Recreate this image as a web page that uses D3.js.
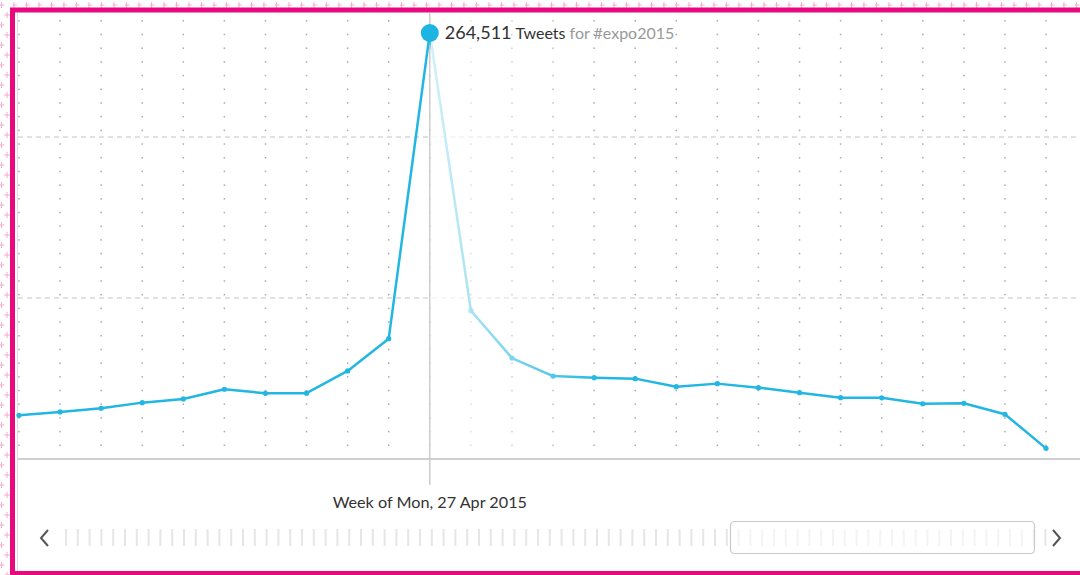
<!DOCTYPE html>
<html>
<head>
<meta charset="utf-8">
<script src="https://cdn.jsdelivr.net/npm/d3@7"></script>
<style>
  body { margin: 0; background: #fff; }
  svg { display: block; font-family: "Lato", "Open Sans", sans-serif; }
</style>
</head>
<body>
<script>
var width = 1080;
var height = 575;

// weekly tweet counts for #expo2015
var weeks = ["16 Feb 2015", "23 Feb 2015", "2 Mar 2015", "9 Mar 2015", "16 Mar 2015",
    "23 Mar 2015", "30 Mar 2015", "6 Apr 2015", "13 Apr 2015", "20 Apr 2015",
    "27 Apr 2015", "4 May 2015", "11 May 2015", "18 May 2015", "25 May 2015",
    "1 Jun 2015", "8 Jun 2015", "15 Jun 2015", "22 Jun 2015", "29 Jun 2015",
    "6 Jul 2015", "13 Jul 2015", "20 Jul 2015", "27 Jul 2015", "3 Aug 2015", "10 Aug 2015"];
var tweets = [27100, 29200, 31500, 35000, 37300, 43300, 40800, 40900, 54700, 74700,
    264511, 92100, 62700, 51500, 50500, 49900, 44900, 46800, 44300, 41200,
    38100, 38000, 34300, 34600, 27800, 6600];
var gridValues = [100000, 200000];
var hoverIndex = 10;
var hashtag = "#expo2015";

var lineColor = "#22b7e2";
var pink = "#e8097f";

var svg = d3.select("body")
    .append("svg")
    .attr("width", width)
    .attr("height", height);

var defs = svg.append("defs");

// light pink crosses outside the frame
var pat = defs.append("pattern")
    .attr("id", "crosses")
    .attr("patternUnits", "userSpaceOnUse")
    .attr("width", 12.5)
    .attr("height", 20);
[[1.5, 5], [7, 15]].forEach(function(c) {
    pat.append("path")
        .attr("d", "M" + (c[0] - 3) + "," + c[1] + "h6M" + c[0] + "," + (c[1] - 3) + "v6")
        .attr("stroke", "#f4a9d0")
        .attr("stroke-width", 1);
});

var fade = defs.append("linearGradient")
    .attr("id", "fade")
    .attr("x1", "0").attr("x2", "1").attr("y1", "0").attr("y2", "0");
fade.append("stop").attr("offset", "0").attr("stop-color", "#fff").attr("stop-opacity", 0.8);
fade.append("stop").attr("offset", "1").attr("stop-color", "#fff").attr("stop-opacity", 0);

svg.append("rect")
    .attr("width", width)
    .attr("height", height)
    .attr("fill", "url(#crosses)");

svg.append("rect")
    .attr("x", 12.5)
    .attr("y", 10)
    .attr("width", width)
    .attr("height", 563.5)
    .attr("fill", "#fff")
    .attr("stroke", pink)
    .attr("stroke-width", 5);

var x = d3.scalePoint()
    .domain(weeks)
    .range([19, 1046]);

var y = d3.scaleLinear()
    .domain([0, d3.max(tweets)])
    .range([459, 33]);

var step = x.step();

// left edge of the chart container
svg.append("line")
    .attr("x1", 17.5).attr("x2", 17.5)
    .attr("y1", 13).attr("y2", 571)
    .attr("stroke", "#ddd");

// dotted grid
var rows = d3.range(1, 33).map(function(k) { return y(0) - k * step / 3; });
var dots = svg.append("g").attr("class", "dots");
weeks.forEach(function(w) {
    dots.selectAll(null)
        .data(rows)
        .enter().append("rect")
        .attr("x", x(w) - 0.75)
        .attr("y", function(d) { return d - 0.75; })
        .attr("width", 1.5)
        .attr("height", 1.5)
        .attr("fill", "#aaa");
});

// dashed value lines
svg.append("g")
    .selectAll("line")
    .data(gridValues)
    .enter().append("line")
    .attr("x1", 18).attr("x2", width)
    .attr("y1", function(d) { return y(d); })
    .attr("y2", function(d) { return y(d); })
    .attr("stroke", "#d8d8d8")
    .attr("stroke-width", 1.5)
    .attr("stroke-dasharray", "5,4");

// baseline
svg.append("line")
    .attr("x1", 18).attr("x2", width)
    .attr("y1", y(0)).attr("y2", y(0))
    .attr("stroke", "#cfcfcf")
    .attr("stroke-width", 2);

var hx = x(weeks[hoverIndex]);

// hover guide
svg.append("line")
    .attr("x1", hx).attr("x2", hx)
    .attr("y1", 13).attr("y2", 485)
    .attr("stroke", "#ccc")
    .attr("stroke-width", 1.5);

var line = d3.line()
    .x(function(d, i) { return x(weeks[i]); })
    .y(function(d) { return y(d); });

svg.append("path")
    .datum(tweets)
    .attr("d", line)
    .attr("fill", "none")
    .attr("stroke", lineColor)
    .attr("stroke-width", 2.5)
    .attr("stroke-linejoin", "round");

svg.append("g")
    .selectAll("circle")
    .data(tweets)
    .enter().append("circle")
    .attr("cx", function(d, i) { return x(weeks[i]); })
    .attr("cy", function(d) { return y(d); })
    .attr("r", 2.6)
    .attr("fill", lineColor);

// fade to the right of the hovered week
svg.append("rect")
    .attr("x", hx + 1)
    .attr("y", 13)
    .attr("width", 170)
    .attr("height", 444)
    .attr("fill", "url(#fade)");

svg.append("circle")
    .attr("cx", hx)
    .attr("cy", y(tweets[hoverIndex]))
    .attr("r", 9)
    .attr("fill", "#1bb4e3");

var label = svg.append("text")
    .attr("x", hx + 15)
    .attr("y", y(tweets[hoverIndex]) + 6)
    .attr("fill", "#333");
label.append("tspan")
    .attr("font-size", 18)
    .text(d3.format(",")(tweets[hoverIndex]));
label.append("tspan")
    .attr("font-size", 16)
    .attr("dx", 4)
    .text("Tweets");
label.append("tspan")
    .attr("font-size", 16)
    .attr("dx", 4)
    .attr("fill", "#999")
    .text("for " + hashtag);

svg.append("text")
    .attr("x", hx)
    .attr("y", 508)
    .attr("text-anchor", "middle")
    .attr("font-size", 16.2)
    .attr("fill", "#333")
    .text("Week of Mon, " + weeks[hoverIndex]);

// navigator strip
var nav = svg.append("g").attr("class", "navigator");
nav.selectAll("line")
    .data(d3.range(66, 1050, 11.8))
    .enter().append("line")
    .attr("x1", function(d) { return d; })
    .attr("x2", function(d) { return d; })
    .attr("y1", 529)
    .attr("y2", 546)
    .attr("stroke", "#e6e6e6")
    .attr("stroke-width", 2);

nav.append("rect")
    .attr("x", 730.5)
    .attr("y", 521.5)
    .attr("width", 304)
    .attr("height", 32)
    .attr("rx", 4)
    .attr("fill", "#fff")
    .attr("fill-opacity", 0.55)
    .attr("stroke", "#c9c9c9")
    .attr("stroke-width", 1.2);

nav.append("path")
    .attr("d", "M48,530L41,538L48,546")
    .attr("fill", "none")
    .attr("stroke", "#555")
    .attr("stroke-width", 2);

nav.append("path")
    .attr("d", "M1053,530L1060,538L1053,546")
    .attr("fill", "none")
    .attr("stroke", "#555")
    .attr("stroke-width", 2);
</script>
</body>
</html>
